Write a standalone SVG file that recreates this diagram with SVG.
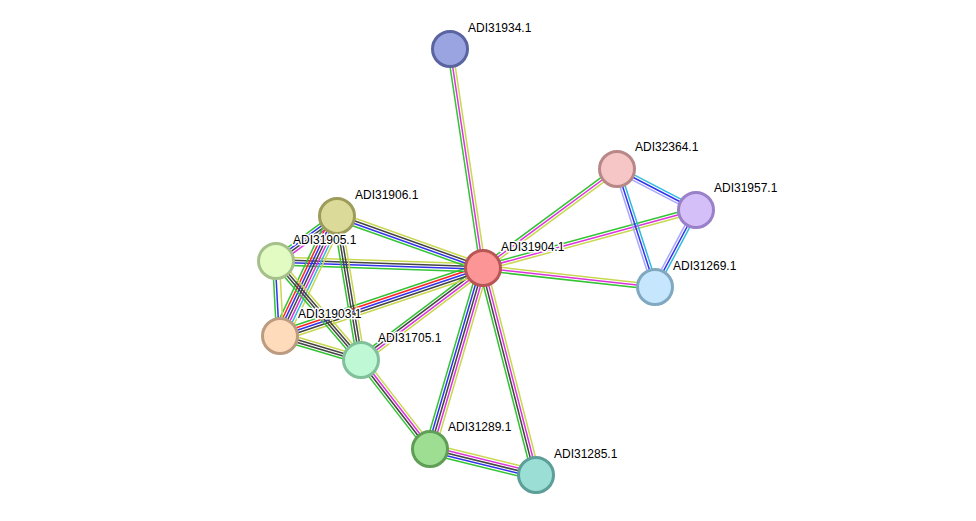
<svg xmlns="http://www.w3.org/2000/svg" width="976" height="521" viewBox="0 0 976 521">
<style>
.e line{stroke-width:1.5;fill:none}
.g{stroke:#33C433}.r{stroke:#FF2222}.b{stroke:#3333EE}.k{stroke:#444444}.m{stroke:#DD33DD}.c{stroke:#33BBDD}.y{stroke:#C8D850}.l{stroke:#A8A8FF}
.n circle{stroke-width:3}
.n text{font-family:"Liberation Sans",Arial,sans-serif;font-size:12px;fill:#000;stroke:#fff;stroke-width:3;paint-order:stroke;stroke-linejoin:round}
</style>
<rect width="976" height="521" fill="#fff"/>
<g id="connectors" class="e">
<g transform="translate(450 49) rotate(81.43)"><line class="g" x2="221.5" y1="2.6" y2="2.6"/><line class="m" x2="221.5"/><line class="y" x2="221.5" y1="-2.6" y2="-2.6"/></g>
<g transform="translate(617 169) rotate(143.54)"><line class="g" x2="166.6" y1="2.6" y2="2.6"/><line class="m" x2="166.6"/><line class="y" x2="166.6" y1="-2.6" y2="-2.6"/></g>
<g transform="translate(696 210) rotate(164.77)"><line class="g" x2="220.8" y1="2.6" y2="2.6"/><line class="m" x2="220.8"/><line class="y" x2="220.8" y1="-2.6" y2="-2.6"/></g>
<g transform="translate(483 268) rotate(6.30)"><line class="g" x2="173" y1="2.6" y2="2.6"/><line class="m" x2="173"/><line class="y" x2="173" y1="-2.6" y2="-2.6"/></g>
<g transform="translate(617 169) rotate(27.43)"><line class="l" x2="89" y1="2.6" y2="2.6"/><line class="b" x2="89"/><line class="c" x2="89" y1="-2.6" y2="-2.6"/></g>
<g transform="translate(617 169) rotate(72.15)"><line class="l" x2="124" y1="2.6" y2="2.6"/><line class="b" x2="124"/><line class="c" x2="124" y1="-2.6" y2="-2.6"/></g>
<g transform="translate(696 210) rotate(118.03)"><line class="l" x2="87.2" y1="2.6" y2="2.6"/><line class="b" x2="87.2"/><line class="c" x2="87.2" y1="-2.6" y2="-2.6"/></g>
<g transform="translate(483 268) rotate(106.32)"><line class="g" x2="188.6" y1="5.2" y2="5.2"/><line class="b" x2="188.6" y1="2.6" y2="2.6"/><line class="k" x2="188.6"/><line class="m" x2="188.6" y1="-2.6" y2="-2.6"/><line class="y" x2="188.6" y1="-5.2" y2="-5.2"/></g>
<g transform="translate(483 268) rotate(75.64)"><line class="g" x2="213.7" y1="3.9" y2="3.9"/><line class="k" x2="213.7" y1="1.3" y2="1.3"/><line class="m" x2="213.7" y1="-1.3" y2="-1.3"/><line class="y" x2="213.7" y1="-3.9" y2="-3.9"/></g>
<g transform="translate(430 449) rotate(13.78)"><line class="g" x2="109.1" y1="5.2" y2="5.2"/><line class="b" x2="109.1" y1="2.6" y2="2.6"/><line class="k" x2="109.1"/><line class="m" x2="109.1" y1="-2.6" y2="-2.6"/><line class="y" x2="109.1" y1="-5.2" y2="-5.2"/></g>
<g transform="translate(361 360) rotate(52.22)"><line class="g" x2="112.6" y1="3.9" y2="3.9"/><line class="k" x2="112.6" y1="1.3" y2="1.3"/><line class="m" x2="112.6" y1="-1.3" y2="-1.3"/><line class="y" x2="112.6" y1="-3.9" y2="-3.9"/></g>
<g transform="translate(483 268) rotate(142.98)"><line class="g" x2="152.8" y1="3.9" y2="3.9"/><line class="k" x2="152.8" y1="1.3" y2="1.3"/><line class="m" x2="152.8" y1="-1.3" y2="-1.3"/><line class="y" x2="152.8" y1="-3.9" y2="-3.9"/></g>
<g transform="translate(483 268) rotate(161.48)"><line class="g" x2="214.1" y1="5.2" y2="5.2"/><line class="r" x2="214.1" y1="2.6" y2="2.6"/><line class="b" x2="214.1"/><line class="k" x2="214.1" y1="-2.6" y2="-2.6"/><line class="y" x2="214.1" y1="-5.2" y2="-5.2"/></g>
<g transform="translate(276 261) rotate(1.94)"><line class="g" x2="207.1" y1="3.9" y2="3.9"/><line class="b" x2="207.1" y1="1.3" y2="1.3"/><line class="k" x2="207.1" y1="-1.3" y2="-1.3"/><line class="y" x2="207.1" y1="-3.9" y2="-3.9"/></g>
<g transform="translate(337 216) rotate(19.6)"><line class="g" x2="155" y1="3.9" y2="3.9"/><line class="b" x2="155" y1="1.3" y2="1.3"/><line class="k" x2="155" y1="-1.3" y2="-1.3"/><line class="y" x2="155" y1="-3.9" y2="-3.9"/></g>
<g transform="translate(337 216) rotate(143.59)"><line class="g" x2="75.8" y1="3.9" y2="3.9"/><line class="b" x2="75.8" y1="1.3" y2="1.3"/><line class="k" x2="75.8" y1="-1.3" y2="-1.3"/><line class="m" x2="75.8" y1="-3.9" y2="-3.9"/></g>
<g transform="translate(337 216) rotate(115.41)"><line class="g" x2="132.8" y1="7.8" y2="7.8"/><line class="r" x2="132.8" y1="5.2" y2="5.2"/><line class="b" x2="132.8" y1="2.6" y2="2.6"/><line class="k" x2="132.8"/><line class="m" x2="132.8" y1="-2.6" y2="-2.6"/><line class="c" x2="132.8" y1="-5.2" y2="-5.2"/><line class="y" x2="132.8" y1="-7.8" y2="-7.8"/></g>
<g transform="translate(337 216) rotate(80.54)"><line class="g" x2="146" y1="3.9" y2="3.9"/><line class="k" x2="146" y1="1.3" y2="1.3"/><line class="k" x2="146" y1="-1.3" y2="-1.3"/><line class="y" x2="146" y1="-3.9" y2="-3.9"/></g>
<g transform="translate(276 261) rotate(86.95)"><line class="g" x2="75.1" y1="3.4" y2="3.4"/><line class="b" x2="75.1" y1="0.8" y2="0.8"/><line class="y" x2="75.1" y1="-3.4" y2="-3.4"/></g>
<g transform="translate(276 261) rotate(49.35)"><line class="g" x2="130.5" y1="3.9" y2="3.9"/><line class="k" x2="130.5" y1="1.3" y2="1.3"/><line class="k" x2="130.5" y1="-1.3" y2="-1.3"/><line class="y" x2="130.5" y1="-3.9" y2="-3.9"/></g>
<g transform="translate(280 336) rotate(16.5)"><line class="g" x2="84.5" y1="3.9" y2="3.9"/><line class="k" x2="84.5" y1="1.3" y2="1.3"/><line class="k" x2="84.5" y1="-1.3" y2="-1.3"/><line class="y" x2="84.5" y1="-3.9" y2="-3.9"/></g>
</g>
<g id="ADI31934.1" class="n"><circle cx="450" cy="49" r="17.5" fill="#9AA4E0" stroke="#5A64A0"/><text x="468" y="32">ADI31934.1</text></g>
<g id="ADI32364.1" class="n"><circle cx="617" cy="169" r="17.5" fill="#F6C6C6" stroke="#B88888"/><text x="635" y="151">ADI32364.1</text></g>
<g id="ADI31957.1" class="n"><circle cx="696" cy="210" r="17.5" fill="#D5BFF8" stroke="#9A80C8"/><text x="714" y="192">ADI31957.1</text></g>
<g id="ADI31906.1" class="n"><circle cx="337" cy="216" r="17.5" fill="#DCDA98" stroke="#9E9C5A"/><text x="355" y="199">ADI31906.1</text></g>
<g id="ADI31905.1" class="n"><circle cx="276" cy="261" r="17.5" fill="#E1FBC3" stroke="#A5C08A"/><text x="293" y="244">ADI31905.1</text></g>
<g id="ADI31904.1" class="n"><circle cx="483" cy="268" r="17.5" fill="#FC9595" stroke="#B85555"/><text x="501" y="251">ADI31904.1</text></g>
<g id="ADI31269.1" class="n"><circle cx="655" cy="287" r="17.5" fill="#C5E6FC" stroke="#80A8C0"/><text x="673" y="270">ADI31269.1</text></g>
<g id="ADI31903.1" class="n"><circle cx="280" cy="336" r="17.5" fill="#FDDBBB" stroke="#BC9C80"/><text x="298" y="318">ADI31903.1</text></g>
<g id="ADI31705.1" class="n"><circle cx="361" cy="360" r="17.5" fill="#BEF8D5" stroke="#80C09A"/><text x="378" y="342">ADI31705.1</text></g>
<g id="ADI31289.1" class="n"><circle cx="430" cy="449" r="17.5" fill="#9DDE92" stroke="#5E9E55"/><text x="448" y="431">ADI31289.1</text></g>
<g id="ADI31285.1" class="n"><circle cx="536" cy="475" r="17.5" fill="#9ADED6" stroke="#5C9E98"/><text x="554" y="458">ADI31285.1</text></g>
</svg>
